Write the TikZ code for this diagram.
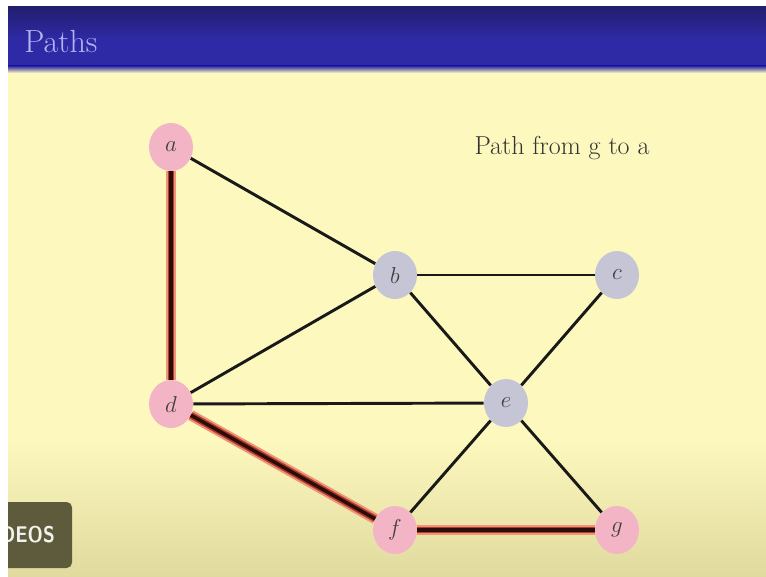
\documentclass[tikz,border=0pt]{standalone}
\usetikzlibrary{shapes.geometric}
\pgfdeclarelayer{bg}
\pgfdeclarelayer{edgelayer}
\pgfsetlayers{bg,edgelayer,main}
\definecolor{barblue}{HTML}{2E2AA6}
\definecolor{bardark}{HTML}{221E70}
\definecolor{slidetop}{HTML}{FDF8BE}
\definecolor{slidebot}{HTML}{E0DA9E}
\definecolor{vpink}{HTML}{F3B5C6}
\definecolor{vgray}{HTML}{C6C5D6}
\definecolor{titlecol}{HTML}{B4B4F0}
\definecolor{glow}{HTML}{EE9478}
\definecolor{glowmid}{HTML}{B03A2C}
\definecolor{core}{HTML}{2A0C08}
\definecolor{ovcolor}{HTML}{5E5B3C}
\tikzset{
  vtx/.style={ellipse, minimum width=33pt, minimum height=36pt, inner sep=0pt, font=\fontsize{16}{16}\selectfont, text=black!75},
  pinkv/.style={vtx, fill=vpink},
  grayv/.style={vtx, fill=vgray},
  edge/.style={line width=2.2pt, black!90},
  pathglow/.style={line width=8pt, glow},
  pathmid/.style={line width=5pt, glowmid},
  pathcore/.style={line width=2.6pt, core}
}
\begin{document}
\begin{tikzpicture}[x=0.75pt,y=-0.75pt]
\useasboundingbox (0,0) rectangle (766,577);
\begin{pgfonlayer}{bg}
\fill[white] (0,0) rectangle (766,577);
\fill[slidetop] (8,70) rectangle (766,300);
\shade[top color=slidetop, bottom color=slidebot, middle color=slidetop] (8,299) rectangle (766,577);
\shade[top color=bardark, bottom color=barblue] (8,7) rectangle (766,40);
\fill[barblue] (8,40) rectangle (766,66);
\shade[top color=barblue, bottom color=slidetop] (8,66) rectangle (766,73);
\end{pgfonlayer}
\node[anchor=west, text=titlecol, font=\fontsize{24}{24}\selectfont, inner sep=0pt] (title) at (24,42) {Paths};
\node[font=\fontsize{19.5}{19.5}\selectfont, text=black!80, inner sep=0pt] (caption) at (562,148) {Path from g to a};
\node[pinkv] (a) at (171,147) {$a$};
\node[grayv] (b) at (395,275) {$b$};
\node[grayv] (c) at (617,275) {$c$};
\node[pinkv] (d) at (171,404) {$d$};
\node[grayv] (e) at (506,403) {$e$};
\node[pinkv] (f) at (395,530) {$f$};
\node[pinkv] (g) at (617,530) {$g$};
\begin{pgfonlayer}{edgelayer}
\foreach \u/\v in {a/b, b/c, b/d, b/e, c/e, d/e, e/f, e/g}
  \draw[edge] (\u) -- (\v);
\foreach \u/\v in {a/d, d/f, f/g} {
  \draw[pathglow] (\u) -- (\v);
  \draw[pathmid] (\u) -- (\v);
  \draw[pathcore] (\u) -- (\v);
}
\end{pgfonlayer}
\fill[ovcolor, rounded corners=4pt] (0,502) rectangle (72,568);
\begin{scope}
\clip (8,500) rectangle (72,570);
\node[anchor=east, text=white!92!ovcolor, font=\sffamily\bfseries\fontsize{17}{17}\selectfont, inner sep=0pt, xscale=0.85] (ovtext) at (55,535) {DEOS};
\end{scope}
\fill[white] (0,0) rectangle (8,577);
\end{tikzpicture}
\end{document}
